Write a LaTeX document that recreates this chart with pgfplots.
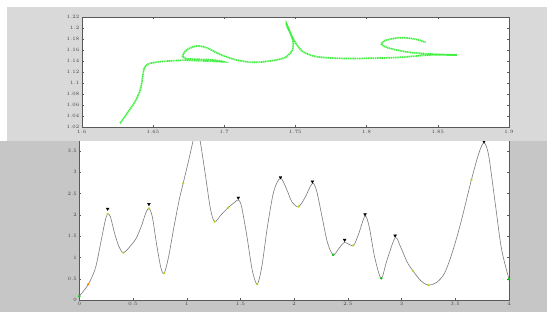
\documentclass[border=0pt]{standalone}
\usepackage{pgfplots}
\pgfplotsset{compat=1.18}
\definecolor{panelA}{HTML}{D9D9D9}
\definecolor{panelB}{HTML}{C6C6C6}
\definecolor{pen}{HTML}{3CF03C}
\definecolor{curve}{HTML}{7A7A7A}
\begin{document}
\begin{tikzpicture}[x=1pt,y=1pt]
\path[use as bounding box, fill=white] (0,0) rectangle (556,322);
% bottom panel
\fill[panelB] (0,10) rectangle (547,181);
\begin{axis}[at={(79.3pt,22pt)}, anchor=south west, scale only axis,
  width=429.7pt, height=161.9pt,
  xmin=0, xmax=4, ymin=0, ymax=3.8,
  xtick={0,0.5,...,4}, ytick={0,0.5,...,3.5},
  axis background/.style={fill=white},
  axis line style={gray!70!black, line width=0.4pt},
  tick align=inside, major tick length=2pt, tick style={gray!70!black},
  ticklabel style={font=\fontsize{4.5}{5}\selectfont, text=black!75},
  xticklabel style={yshift=1pt}, yticklabel style={xshift=1pt},
  clip=true]
\addplot[curve, line width=0.6pt, smooth] coordinates {
(0,0.09) (0.084,0.37) (0.15,0.75) (0.2,1.35) (0.24,1.85) (0.264,2.02) (0.29,1.95)
(0.33,1.55) (0.37,1.25) (0.41,1.11) (0.47,1.25) (0.53,1.45) (0.58,1.75) (0.62,2.05)
(0.648,2.15) (0.68,1.95) (0.72,1.3) (0.76,0.75) (0.79,0.63) (0.83,1.0) (0.88,1.7)
(0.93,2.35) (0.967,2.74) (1.02,3.3) (1.07,3.85) (1.09,3.95) (1.12,3.8) (1.17,3.0)
(1.22,2.15) (1.26,1.84) (1.32,2.0) (1.386,2.17) (1.45,2.3) (1.48,2.35) (1.51,2.2)
(1.56,1.5) (1.61,0.7) (1.656,0.37) (1.70,0.8) (1.75,1.7) (1.81,2.55) (1.873,2.86)
(1.93,2.6) (1.98,2.3) (2.04,2.19) (2.1,2.4) (2.17,2.74) (2.21,2.55) (2.26,1.95)
(2.31,1.35) (2.363,1.06) (2.42,1.22) (2.47,1.35) (2.55,1.28) (2.6,1.55) (2.66,1.97)
(2.7,1.7) (2.75,1.0) (2.81,0.51) (2.86,0.9) (2.94,1.46) (2.99,1.25) (3.05,0.9)
(3.107,0.68) (3.18,0.45) (3.25,0.35) (3.33,0.42) (3.40,0.63) (3.47,1.1) (3.55,1.8)
(3.65,2.82) (3.72,3.45) (3.767,3.69) (3.81,3.4) (3.87,2.3) (3.93,1.2) (4.0,0.49)
};
\addplot[only marks, mark=*, mark size=1pt, color=yellow!70!green, opacity=0.8] coordinates {
(0.264,2.02) (0.41,1.11) (0.79,0.63) (0.967,2.74) (1.26,1.84) (1.386,2.17)
(1.656,0.37) (2.04,2.19) (2.55,1.28) (3.107,0.68) (3.25,0.35) (3.65,2.82) (0.648,2.15)
};
\addplot[only marks, mark=*, mark size=1.1pt, color=green!80!black] coordinates {
(0,0.09) (2.363,1.06) (2.81,0.51) (4.0,0.49)
};
\addplot[only marks, mark=*, mark size=0.9pt, color=orange] coordinates {(0.084,0.37)};
\addplot[only marks, mark=triangle*, mark size=1.6pt, color=black, mark options={rotate=180}] coordinates {
(0.264,2.14) (0.648,2.25) (1.48,2.4) (1.873,2.88) (2.17,2.78) (2.47,1.41)
(2.66,2.01) (2.94,1.51) (3.767,3.72)
};
\end{axis}
% top panel
\fill[panelA] (7,181) rectangle (547,315);
\begin{axis}[at={(81.7pt,194.7pt)}, anchor=south west, scale only axis,
  width=427.3pt, height=110pt,
  xmin=1.6, xmax=1.9, ymin=1.02, ymax=1.22,
  xtick={1.6,1.65,...,1.91}, ytick={1.02,1.04,...,1.221},
  xticklabel style={/pgf/number format/fixed, /pgf/number format/precision=2, yshift=1pt},
  yticklabel style={/pgf/number format/fixed, /pgf/number format/precision=2, xshift=1pt},
  axis background/.style={fill=white},
  axis line style={gray!70!black, line width=0.4pt},
  tick align=inside, major tick length=2pt, tick style={gray!70!black},
  ticklabel style={font=\fontsize{4.5}{5}\selectfont, text=black!75},
  clip=true]
\addplot[pen, line width=1.7pt, smooth, dash pattern=on 1.2pt off 0.6pt] coordinates {
(1.6269,1.0272) (1.6327,1.0484) (1.6381,1.0696) (1.6414,1.0909) (1.6428,1.1121)
(1.6439,1.1272) (1.6467,1.1351) (1.6549,1.1393) (1.6713,1.1418) (1.6876,1.1405)
(1.6993,1.1393) (1.6900,1.1430) (1.6759,1.1442) (1.6708,1.1484) (1.6736,1.1605)
(1.6806,1.1678) (1.6876,1.1648) (1.6970,1.1527) (1.7087,1.1424) (1.7204,1.1381)
(1.7320,1.1405) (1.7426,1.1466) (1.7479,1.1605) (1.7484,1.1757) (1.7461,1.1939)
(1.7437,1.2090) (1.7442,1.2030) (1.7472,1.1878) (1.7503,1.1727) (1.7554,1.1575)
(1.7648,1.1484) (1.7811,1.1454) (1.7998,1.1454) (1.8232,1.1472) (1.8443,1.1515)
(1.8634,1.1515) (1.8489,1.1527) (1.8302,1.1563) (1.8162,1.1636) (1.8104,1.1709)
(1.8139,1.1787) (1.8244,1.1830) (1.8349,1.1799) (1.8414,1.1745)
};
\end{axis}
\end{tikzpicture}
\end{document}
